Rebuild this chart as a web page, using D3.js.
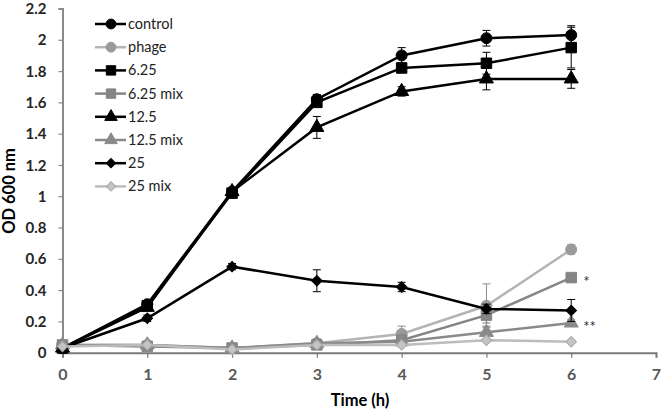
<!DOCTYPE html>
<html><head><meta charset="utf-8">
<script src="https://cdn.jsdelivr.net/npm/d3@7"></script>
<style>body{margin:0;background:#fff}svg{display:block}</style>
</head><body>
<svg id="c" width="662" height="410"></svg>
<script>
const times = [0,1,2,3,4,5,6];
const xTicks = [0,1,2,3,4,5,6,7];
const yTicks = [0,0.2,0.4,0.6,0.8,1,1.2,1.4,1.6,1.8,2,2.2];
const yTickLabels = ["0","0.2","0.4","0.6","0.8","1","1.2","1.4","1.6","1.8","2","2.2"];
const seriesNames = ["control","phage","6.25","6.25 mix","12.5","12.5 mix","25","25 mix"];
const control   = [0.03,0.31,1.03,1.62,1.90,2.01,2.03];
const phage     = [0.05,0.05,0.03,0.06,0.12,0.30,0.66];
const c625      = [0.03,0.30,1.02,1.60,1.82,1.85,1.95];
const c625mix   = [0.05,0.04,0.03,0.05,0.08,0.24,0.48];
const c125      = [0.03,0.29,1.03,1.44,1.67,1.75,1.75];
const c125mix   = [0.05,0.05,0.03,0.06,0.07,0.13,0.19];
const c25       = [0.03,0.22,0.55,0.46,0.42,0.28,0.27];
const c25mix    = [0.04,0.05,0.02,0.05,0.05,0.08,0.07];
const controlErr = [0.01,0.02,0.02,0.03,0.05,0.05,0.06];
const phageErr   = [0.01,0.01,0.01,0.03,0.05,0.14,0.03];
const c625Err    = [0.01,0.02,0.02,0.02,0.03,0.07,0.13];
const c625mixErr = [0.01,0.01,0.01,0.02,0.02,0.05,0.02];
const c125Err    = [0.01,0.02,0.02,0.07,0.03,0.07,0.06];
const c125mixErr = [0.01,0.01,0.01,0.02,0.02,0.04,0.02];
const c25Err     = [0.01,0.02,0.02,0.07,0.03,0.03,0.07];
const c25mixErr  = [0.01,0.01,0.01,0.02,0.01,0.01,0.01];
const annotations = [{t:6, v:0.48, text:"*"},{t:6, v:0.19, text:"**"}];

const values = [control,phage,c625,c625mix,c125,c125mix,c25,c25mix];
const errs = [controlErr,phageErr,c625Err,c625mixErr,c125Err,c125mixErr,c25Err,c25mixErr];
const shapes = ["circle","circle","square","square","triangle","triangle","diamond","diamond"];
const lineColors = ["#000","#b4b4b4","#000","#858585","#000","#8a8a8a","#000","#bdbdbd"];
const markColors = ["#000","#9a9a9a","#000","#858585","#000","#8a8a8a","#000","#c4c4c4"];
const markStroke = ["#000","#9a9a9a","#000","#858585","#000","#8a8a8a","#000","#a8a8a8"];
const errColors = ["#000","#8a8a8a","#000","#777","#000","#777","#000","#999"];
const sizes = {circle:95, square:110, triangle:85, diamond:55};
const symTypes = {circle:d3.symbolCircle, square:d3.symbolSquare, triangle:d3.symbolTriangle, diamond:d3.symbolSquare};
const rot = s => shapes[s]==="diamond" ? " rotate(45)" : "";

const svg = d3.select("#c");
const font = "Lato, 'Open Sans', sans-serif";
const x = d3.scaleLinear().domain([0,7]).range([62.5,656]);
const y = d3.scaleLinear().domain([0,2.2]).range([352.7,8.5]);

// axes
const yAxis = svg.append("g").attr("transform","translate(62.5,0)")
  .call(d3.axisLeft(y).tickValues(yTicks).tickFormat((d,i)=>yTickLabels[i]).tickSizeOuter(0).tickSize(4).tickPadding(12));
yAxis.select(".domain").attr("stroke","#8a8a8a").attr("stroke-width",2);
yAxis.selectAll(".tick line").attr("stroke","#8a8a8a").attr("stroke-width",1.2);
yAxis.selectAll("text").attr("font-family",font).attr("font-weight","bold").attr("font-size",15).attr("fill","#262626").attr("dy","0.34em");

const xAxis = svg.append("g").attr("transform","translate(0,352.7)")
  .call(d3.axisBottom(x).tickValues(xTicks).tickFormat(d3.format("d")).tickSizeOuter(0).tickSize(5).tickPadding(11));
xAxis.select(".domain").attr("stroke","#7a7a7a").attr("stroke-width",2);
xAxis.selectAll(".tick line").attr("stroke","#7a7a7a").attr("stroke-width",1.2);
xAxis.selectAll("text").attr("font-family",font).attr("font-weight","bold").attr("font-size",16).attr("fill","#595959");

svg.append("text").attr("x",360).attr("y",406).attr("text-anchor","middle")
  .attr("font-family",font).attr("font-weight","bold").attr("font-size",16.5).attr("fill","#000").text("Time (h)");
svg.append("text").attr("transform","translate(15,191) rotate(-90)").attr("text-anchor","middle")
  .attr("font-family",font).attr("font-weight","bold").attr("font-size",16.5).attr("fill","#000").text("OD 600 nm");

const line = d3.line().x((d,i)=>x(times[i])).y(d=>y(d));

values.forEach((vals,s)=>{
  const g = svg.append("g");
  vals.forEach((v,i)=>{
    const e = errs[s][i];
    if (e < 0.02) return;
    const cx = x(times[i]);
    g.append("line").attr("x1",cx).attr("x2",cx).attr("y1",y(v-e)).attr("y2",y(v+e)).attr("stroke",errColors[s]).attr("stroke-width",1);
    [v-e,v+e].forEach(t=>g.append("line").attr("x1",cx-4).attr("x2",cx+4).attr("y1",y(t)).attr("y2",y(t)).attr("stroke",errColors[s]).attr("stroke-width",1));
  });
  g.append("path").datum(vals).attr("d",line).attr("fill","none").attr("stroke",lineColors[s]).attr("stroke-width",2.5);
  g.selectAll("path.m").data(vals).enter().append("path").attr("class","m")
    .attr("transform",(d,i)=>`translate(${x(times[i])},${y(d)})${rot(s)}`)
    .attr("d",d3.symbol().type(symTypes[shapes[s]]).size(sizes[shapes[s]]))
    .attr("fill",markColors[s]).attr("stroke",markStroke[s]).attr("stroke-width",1);
});

annotations.forEach(a=>{
  svg.append("text").attr("x",x(a.t)+12).attr("y",y(a.v)+9).attr("font-family",font).attr("font-size",15).attr("fill","#333").text(a.text);
});

// legend
const legY0 = 24, legStep = 23.2;
seriesNames.forEach((n,s)=>{
  const yy = legY0 + s*legStep;
  svg.append("line").attr("x1",95).attr("x2",126).attr("y1",yy).attr("y2",yy).attr("stroke",lineColors[s]).attr("stroke-width",2.5);
  svg.append("path").attr("transform",`translate(111,${yy})${rot(s)}`)
    .attr("d",d3.symbol().type(symTypes[shapes[s]]).size(sizes[shapes[s]]*0.8))
    .attr("fill",markColors[s]).attr("stroke",markStroke[s]).attr("stroke-width",1);
  svg.append("text").attr("x",128).attr("y",yy+5).attr("font-family",font).attr("font-size",14.5).attr("fill","#222").text(n);
});
</script>
</body></html>
